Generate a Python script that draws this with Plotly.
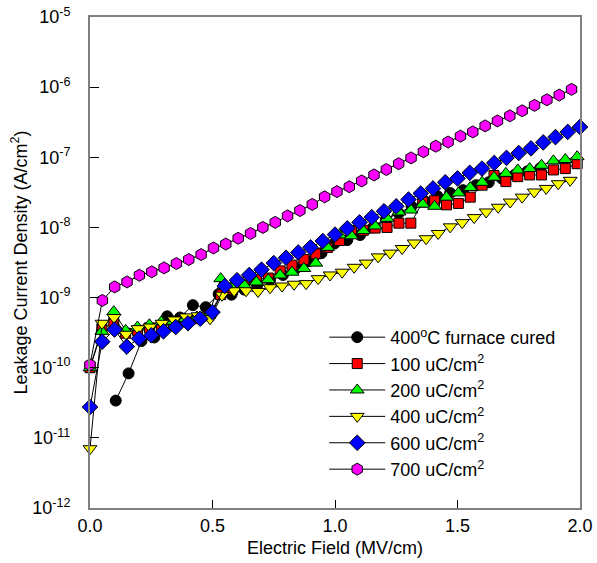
import numpy as np
import plotly.graph_objects as go

# ---- data ----
black_y = [3.4e-11, 8.3e-11, 2.4e-10, 2.7e-10, 5.4e-10, 5.2e-10, 7.8e-10, 7.3e-10, 1.12e-9, 1.1e-9,
           1.3e-9, 1.5e-9, 1.8e-9, 2.1e-9, 2.6e-9, 3.3e-9, 4.3e-9, 5.9e-9, 6.6e-9, 7.8e-9,
           1.0e-8, 1.3e-8, 1.6e-8, 2.0e-8, 2.4e-8, 2.8e-8, 3.1e-8, 3.4e-8, 4.0e-8, 4.4e-8,
           5.0e-8, 5.6e-8, 6.3e-8, 7.0e-8]
black_x = [round(0.0525 * i, 4) for i in range(2, 2 + len(black_y))]

red_y = [1.0e-10, 3.6e-10, 4.4e-10, 3.1e-10, 3.4e-10, 3.7e-10, 4.0e-10, 4.4e-10, 4.8e-10, 5.0e-10,
         5.5e-10, 1.1e-9, 1.3e-9, 1.5e-9, 1.8e-9, 1.9e-9, 2.4e-9, 2.9e-9, 3.5e-9, 4.2e-9,
         5.2e-9, 6.5e-9, 8.9e-9, 9.1e-9, 9.8e-9, 1.0e-8, 1.15e-8, 1.15e-8, 2.3e-8, 2.4e-8,
         2.1e-8, 2.2e-8, 2.7e-8, 4.0e-8, 5.5e-8, 4.5e-8, 5.3e-8, 5.6e-8, 5.6e-8, 6.6e-8,
         6.9e-8, 8.1e-8]
red_x = [round(0.0485 * i, 4) for i in range(len(red_y))]

green_y = [1.0e-10, 3.3e-10, 6.3e-10, 3.4e-10, 3.8e-10, 4.1e-10, 4.5e-10, 4.6e-10, 5.0e-10, 5.3e-10,
           5.6e-10, 1.86e-9, 1.5e-9, 1.5e-9, 1.67e-9, 1.8e-9, 2.1e-9, 2.3e-9, 2.6e-9, 3.1e-9,
           5.2e-9, 7.8e-9, 7.6e-9, 9.0e-9, 1.05e-8, 1.35e-8, 1.66e-8, 1.77e-8, 2.15e-8, 2.0e-8,
           2.7e-8, 3.1e-8, 3.7e-8, 4.4e-8, 5.2e-8, 5.9e-8, 6.6e-8, 6.9e-8, 7.7e-8, 8.9e-8,
           9.3e-8, 1.02e-7]
green_x = [round(0.0485 * i, 4) for i in range(len(green_y))]

yellow_y = [7.0e-12, 4.3e-10, 5.2e-10, 3.0e-10, 3.6e-10, 3.8e-10, 4.3e-10, 4.8e-10, 5.3e-10, 5.5e-10,
            5.0e-10, 1.08e-9, 1.25e-9, 1.25e-9, 1.22e-9, 1.38e-9, 1.46e-9, 1.55e-9, 1.58e-9, 1.86e-9,
            2.1e-9, 2.3e-9, 2.7e-9, 3.1e-9, 3.8e-9, 4.3e-9, 5.0e-9, 6.0e-9, 6.9e-9, 8.2e-9,
            1.02e-8, 1.17e-8, 1.38e-8, 1.66e-8, 1.94e-8, 2.3e-8, 2.7e-8, 3.2e-8, 3.6e-8, 4.2e-8,
            4.7e-8]
yellow_x = [round(0.049 * i, 4) for i in range(len(yellow_y))]

blue_y = [2.75e-11, 2.35e-10, 3.5e-10, 2.0e-10, 2.6e-10, 2.9e-10, 3.3e-10, 3.8e-10, 4.3e-10, 5.0e-10,
          6.2e-10, 1.46e-9, 1.77e-9, 2.1e-9, 2.5e-9, 3.1e-9, 3.7e-9, 4.4e-9, 5.2e-9, 6.4e-9,
          7.9e-9, 9.7e-9, 1.18e-8, 1.4e-8, 1.7e-8, 2.0e-8, 2.5e-8, 3.05e-8, 3.6e-8, 4.4e-8,
          5.0e-8, 6.0e-8, 6.9e-8, 8.3e-8, 9.8e-8, 1.15e-7, 1.34e-7, 1.63e-7, 1.94e-7, 2.3e-7,
          2.7e-7]
blue_x = [round(0.05 * i, 4) for i in range(len(blue_y))]

pink_y = [1.1e-10, 9.1e-10, 1.42e-9, 1.67e-9, 2.08e-9, 2.33e-9, 2.65e-9, 3.06e-9, 3.49e-9, 4.1e-9,
          5.1e-9, 5.8e-9, 7.0e-9, 8.2e-9, 1.0e-8, 1.18e-8, 1.46e-8, 1.74e-8, 2.13e-8, 2.73e-8,
          3.24e-8, 3.8e-8, 4.6e-8, 5.6e-8, 6.7e-8, 8.1e-8, 9.8e-8, 1.2e-7, 1.44e-7, 1.65e-7,
          2.0e-7, 2.3e-7, 2.8e-7, 3.3e-7, 3.9e-7, 4.6e-7, 5.5e-7, 6.6e-7, 7.7e-7, 9.3e-7]
pink_x = [round(0.0504 * i, 4) for i in range(len(pink_y))]

names = ["400<sup>o</sup>C furnace cured", "100 uC/cm<sup>2</sup>", "200 uC/cm<sup>2</sup>",
         "400 uC/cm<sup>2</sup>", "600 uC/cm<sup>2</sup>", "700 uC/cm<sup>2</sup>"]

x_ticks = [0.0, 0.5, 1.0, 1.5, 2.0]
x_ticktext = ["0.0", "0.5", "1.0", "1.5", "2.0"]
y_exps = [-12, -11, -10, -9, -8, -7, -6, -5]

series = [
    (black_x, black_y, "circle", "#000000", 11),
    (red_x, red_y, "square", "#ff0000", 10),
    (green_x, green_y, "triangle-up", "#00ff00", 12),
    (yellow_x, yellow_y, "triangle-down", "#ffff00", 12),
    (blue_x, blue_y, "diamond", "#0000ff", 12),
    (pink_x, pink_y, "hexagon", "#ff00ff", 12),
]

fig = go.Figure()
for (xs, ys, sym, col, sz), nm in zip(series, names):
    fig.add_trace(go.Scatter(
        x=xs, y=ys, name=nm, mode="lines+markers",
        line=dict(color="#000000", width=1),
        marker=dict(symbol=sym, color=col, size=sz, line=dict(color="#000000", width=1)),
        cliponaxis=False,
    ))

axis_col = "#808080"
FONT = "Liberation Sans, Arial, sans-serif"
fig.update_layout(
    width=597, height=563,
    margin=dict(l=90, r=17, t=17, b=55),
    paper_bgcolor="white", plot_bgcolor="white",
    font=dict(family=FONT, size=18, color="#000000"),
    showlegend=True,
    legend=dict(x=0.478, y=0.385, xanchor="left", yanchor="top", itemwidth=56,
                bgcolor="rgba(0,0,0,0)", font=dict(family=FONT, size=18), tracegroupgap=0),
    xaxis=dict(range=[0, 2.0], tickvals=x_ticks, ticktext=x_ticktext, automargin=False,
               ticks="inside", ticklen=8, tickcolor="#000000", tickwidth=1,
               showline=True, linecolor=axis_col, linewidth=2, mirror=True,
               showgrid=False, zeroline=False,
               title=dict(text="Electric Field (MV/cm)", font=dict(family=FONT, size=18), standoff=7),
               tickfont=dict(family=FONT, size=18)),
    yaxis=dict(type="log", range=[-12, -5], automargin=False,
               tickvals=[10.0 ** e for e in y_exps],
               ticktext=["10<sup>%d</sup>" % e for e in y_exps],
               ticks="inside", ticklen=9, tickcolor="#000000", tickwidth=1,
               ticklabelstandoff=14,
               showline=True, linecolor=axis_col, linewidth=2, mirror=True,
               showgrid=False, zeroline=False,
               title=dict(text="Leakage Current Density (A/cm<sup>2</sup>)",
                          font=dict(family=FONT, size=18), standoff=0),
               tickfont=dict(family=FONT, size=18)),
)

fig.write_html("out.html", config={"displayModeBar": False},
               post_script="document.body.style.margin='0px';")
